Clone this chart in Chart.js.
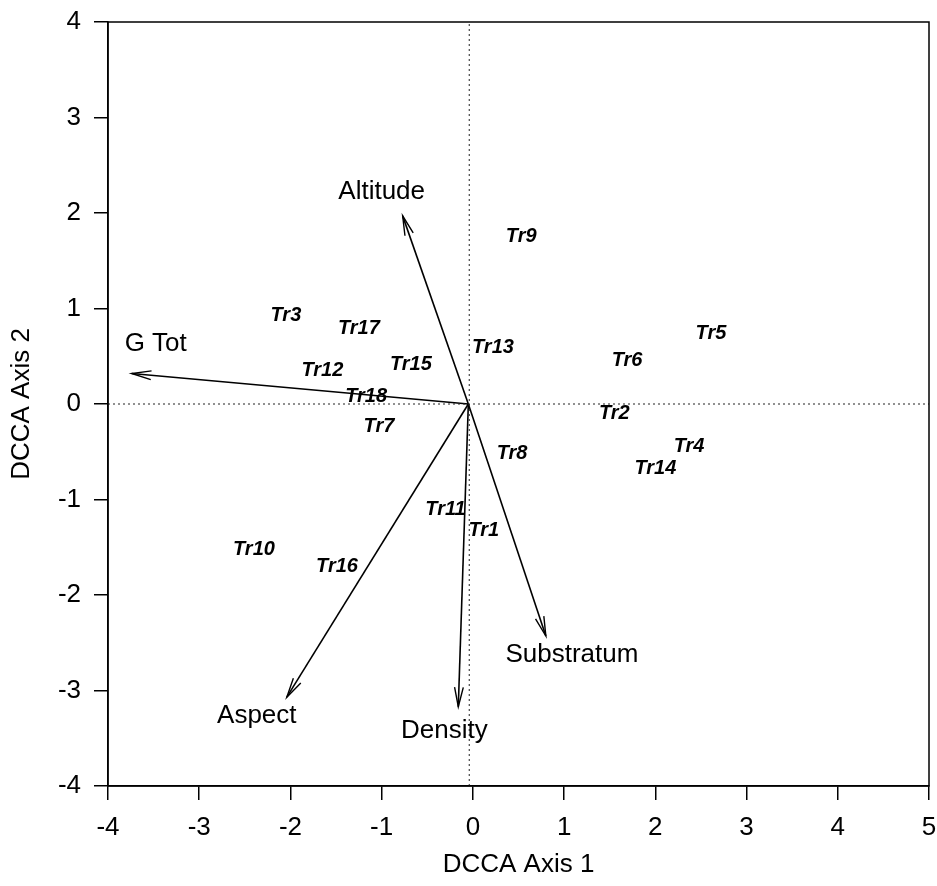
<!DOCTYPE html>
<html>
<head>
<meta charset="utf-8">
<title>DCCA biplot</title>
<script src="https://cdn.jsdelivr.net/npm/chart.js@4.4.1/dist/chart.umd.min.js"></script>
<style>
  body { margin: 0; background: #fff; }
  #wrap { width: 937px; height: 886px; position: relative; }
</style>
</head>
<body>
<div id="wrap"><canvas id="myChart"></canvas></div>
<script>
// sample scores (transects)
const siteNames = ['Tr1','Tr2','Tr3','Tr4','Tr5','Tr6','Tr7','Tr8','Tr9','Tr10','Tr11','Tr12','Tr13','Tr14','Tr15','Tr16','Tr17','Tr18'];
const siteX = [0.12, 1.55, -2.05, 2.37, 2.61, 1.69, -1.03, 0.43, 0.53, -2.40, -0.30, -1.65, 0.22, 2.00, -0.68, -1.49, -1.25, -1.17];
const siteY = [-1.32, -0.10, 0.93, -0.45, 0.74, 0.46, -0.24, -0.52, 1.75, -1.52, -1.10, 0.35, 0.59, -0.68, 0.41, -1.70, 0.79, 0.08];

// environmental variables (arrow tips)
const varNames = ['Altitude', 'G Tot', 'Aspect', 'Density', 'Substratum'];
const varX = [-0.77, -3.74, -2.04, -0.16, 0.80];
const varY = [1.97, 0.32, -3.07, -3.17, -2.43];
const origin = {x: -0.05, y: 0};

// axis ticks
const xTicks = [-4, -3, -2, -1, 0, 1, 2, 3, 4, 5];
const yTicks = [-4, -3, -2, -1, 0, 1, 2, 3, 4];

// label offsets in pixels from the arrow tip
const varLabelOffset = [[-21, -24], [24, -30], [-30, 19], [-14, 24], [26, 19]];

const FONT = 'Arial, "Liberation Sans", sans-serif';

let datasets = [];
// dotted zero lines
datasets.push({
  data: [{x: -0.04, y: yTicks[0]}, {x: -0.04, y: yTicks[yTicks.length - 1]}],
  showLine: true, borderColor: '#222', borderWidth: 1, borderDash: [2, 3], pointRadius: 0
});
datasets.push({
  data: [{x: xTicks[0], y: 0}, {x: xTicks[xTicks.length - 1], y: 0}],
  showLine: true, borderColor: '#222', borderWidth: 1, borderDash: [2, 3], pointRadius: 0
});
// arrows
for (let i = 0; i < varNames.length; i++) {
  datasets.push({
    label: varNames[i],
    data: [origin, {x: varX[i], y: varY[i]}],
    showLine: true, borderColor: '#000', borderWidth: 1.6, pointRadius: 0
  });
}
// sites (drawn as labels only)
datasets.push({
  label: 'sites',
  data: siteX.map((v, i) => ({x: v, y: siteY[i]})),
  pointRadius: 0
});

const arrowsAndLabels = {
  id: 'arrowsAndLabels',
  afterDatasetsDraw(chart) {
    const ctx = chart.ctx;
    const sx = chart.scales.x, sy = chart.scales.y;
    const ox = sx.getPixelForValue(origin.x), oy = sy.getPixelForValue(origin.y);
    ctx.save();
    ctx.strokeStyle = '#000';
    ctx.lineWidth = 1.4;
    ctx.fillStyle = '#000';
    ctx.textAlign = 'center';
    ctx.textBaseline = 'middle';
    for (let i = 0; i < varNames.length; i++) {
      const tx = sx.getPixelForValue(varX[i]), ty = sy.getPixelForValue(varY[i]);
      const ang = Math.atan2(ty - oy, tx - ox);
      const len = 20, spread = 0.22;
      ctx.beginPath();
      ctx.moveTo(tx - len * Math.cos(ang - spread), ty - len * Math.sin(ang - spread));
      ctx.lineTo(tx, ty);
      ctx.lineTo(tx - len * Math.cos(ang + spread), ty - len * Math.sin(ang + spread));
      ctx.stroke();
      ctx.font = '26px ' + FONT;
      ctx.fillText(varNames[i], tx + varLabelOffset[i][0], ty + varLabelOffset[i][1]);
    }
    ctx.font = 'italic bold 20px ' + FONT;
    for (let i = 0; i < siteNames.length; i++) {
      ctx.fillText(siteNames[i], sx.getPixelForValue(siteX[i]), sy.getPixelForValue(siteY[i]));
    }
    // box around plot
    const a = chart.chartArea;
    ctx.lineWidth = 1.5;
    ctx.strokeRect(a.left, a.top, a.right - a.left, a.bottom - a.top);
    ctx.restore();
  }
};

new Chart(document.getElementById('myChart'), {
  type: 'scatter',
  data: { datasets: datasets },
  options: {
    responsive: true,
    maintainAspectRatio: false,
    animation: false,
    layout: { padding: { top: 22, right: 8, left: 0, bottom: 0 } },
    plugins: { legend: { display: false }, tooltip: { enabled: false } },
    scales: {
      x: {
        type: 'linear',
        min: xTicks[0], max: xTicks[xTicks.length - 1],
        afterFit(scale) {
          scale.height = 100;
          scale.paddingLeft = 0; scale.paddingRight = 0;
        },
        ticks: { stepSize: 1, color: '#000', font: { family: FONT, size: 26 }, padding: 12, maxRotation: 0 },
        grid: { drawOnChartArea: false, tickLength: 14, color: '#000', lineWidth: 1.5 },
        border: { color: '#000', width: 1.5 },
        title: { display: true, text: 'DCCA Axis 1', color: '#000', font: { family: FONT, size: 26 }, padding: { top: 0, bottom: 6 } }
      },
      y: {
        type: 'linear',
        min: yTicks[0], max: yTicks[yTicks.length - 1],
        afterFit(scale) {
          scale.width = 108;
          scale.paddingTop = 0; scale.paddingBottom = 0;
        },
        ticks: { stepSize: 1, color: '#000', font: { family: FONT, size: 26 }, padding: 13 },
        grid: { drawOnChartArea: false, tickLength: 14, color: '#000', lineWidth: 1.5 },
        border: { color: '#000', width: 1.5 },
        title: { display: true, text: 'DCCA Axis 2', color: '#000', font: { family: FONT, size: 26 }, padding: { top: 6, bottom: 0 } }
      }
    }
  },
  plugins: [arrowsAndLabels]
});
</script>
</body>
</html>
